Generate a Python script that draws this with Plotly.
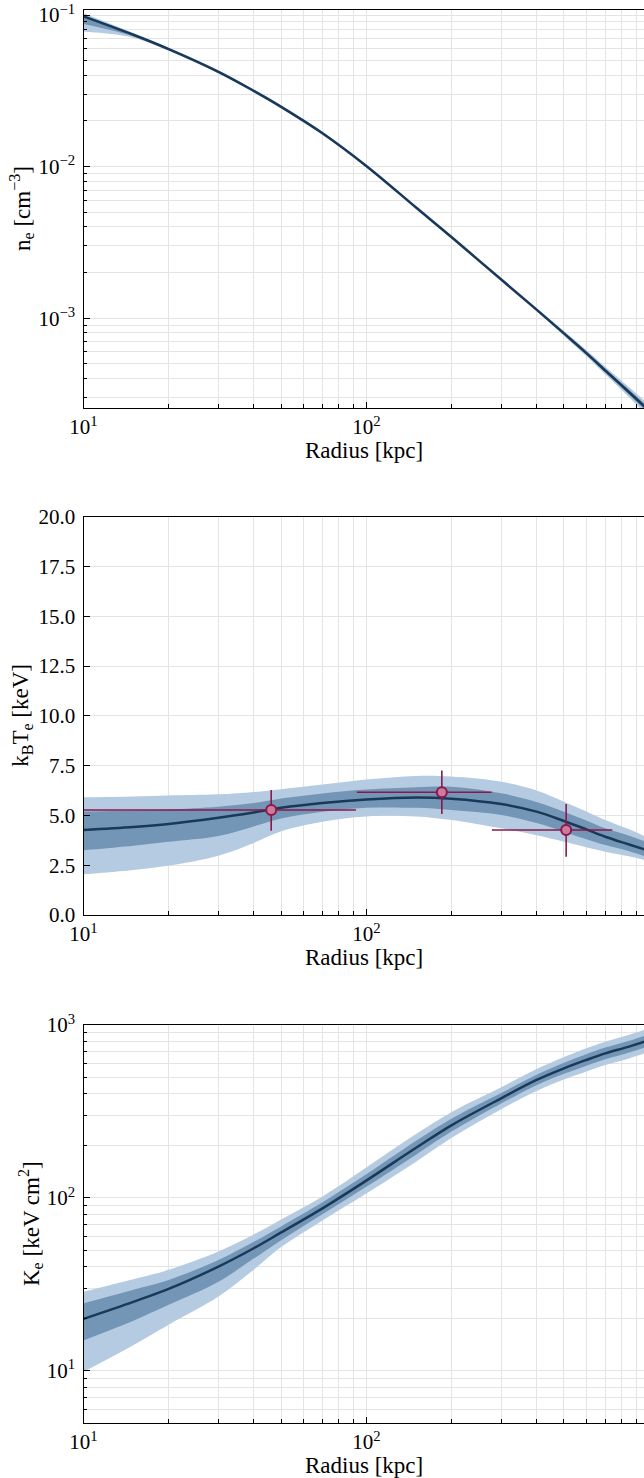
import plotly.graph_objects as go

# ---------------- data ----------------
radius = [10, 15, 20, 30, 40, 50, 70, 100, 150, 200, 300, 400, 500, 600, 700, 850, 1000]

# electron density [cm^-3]
ne_med = [0.0980, 0.0741, 0.0596, 0.0422, 0.0316, 0.0248, 0.0166, 0.0101, 0.00537, 0.00343,
          0.00180, 0.00114, 0.000794, 0.000589, 0.000452, 0.000325, 0.000245]
ne_lo2 = [0.0778, 0.0708, 0.0580, 0.0412, 0.0309, 0.0242, 0.0162, 0.00987, 0.00525, 0.00335,
          0.00176, 0.00111, 0.000765, 0.000562, 0.000427, 0.000301, 0.000223]
ne_hi2 = [0.1026, 0.0762, 0.0610, 0.0432, 0.0323, 0.0254, 0.0170, 0.01033, 0.00549, 0.00351,
          0.00184, 0.00117, 0.000824, 0.000617, 0.000479, 0.000351, 0.000269]
ne_lo1 = [0.0873, 0.0724, 0.0588, 0.0417, 0.0312, 0.0245, 0.0164, 0.00998, 0.00531, 0.00339,
          0.00178, 0.001124, 0.000780, 0.000576, 0.000439, 0.000313, 0.000234]
ne_hi1 = [0.1003, 0.0751, 0.0603, 0.0427, 0.0320, 0.0251, 0.0168, 0.01022, 0.00543, 0.00347,
          0.00182, 0.001156, 0.000809, 0.000603, 0.000465, 0.000338, 0.000257]

# temperature [keV]
kt_med = [4.27, 4.42, 4.57, 4.88, 5.15, 5.38, 5.62, 5.80, 5.90, 5.84, 5.57, 5.19, 4.72, 4.30, 3.93, 3.54, 3.22]
kt_hi2 = [5.91, 5.95, 6.00, 6.06, 6.18, 6.32, 6.55, 6.80, 6.98, 6.95, 6.69, 6.25, 5.69, 5.20, 4.77, 4.30, 3.85]
kt_lo2 = [2.04, 2.26, 2.48, 2.98, 3.62, 4.20, 4.68, 4.95, 4.95, 4.77, 4.35, 4.00, 3.68, 3.40, 3.18, 2.95, 2.70]
kt_hi1 = [5.20, 5.25, 5.30, 5.44, 5.62, 5.85, 6.10, 6.30, 6.42, 6.44, 6.11, 5.68, 5.19, 4.75, 4.35, 3.98, 3.62]
kt_lo1 = [3.25, 3.48, 3.68, 3.97, 4.45, 4.85, 5.18, 5.38, 5.38, 5.27, 5.02, 4.62, 4.18, 3.80, 3.51, 3.20, 2.88]

# measured temperature points
obs_r = [46.1, 185.0, 509.0]
obs_r_lo = [10.0, 92.6, 278.0]
obs_r_hi = [91.9, 277.5, 741.0]
obs_kt = [5.27, 6.16, 4.27]
obs_kt_lo = [4.23, 5.07, 2.93]
obs_kt_hi = [6.28, 7.25, 5.57]

# entropy [keV cm^2]
k_med = [20.0, 25.1, 29.8, 40.1, 51.2, 63.2, 87.1, 126, 195, 263, 377, 481, 562, 628, 685, 750, 818]
k_hi2 = [28.7, 33.9, 38.4, 49.0, 61.5, 75.1, 102, 150, 234, 313, 436, 556, 653, 734, 800, 878, 957]
k_lo2 = [9.9, 14.1, 18.5, 26.9, 38.5, 52.0, 74.1, 106, 162, 222, 326, 416, 484, 538, 587, 641, 699]
k_hi1 = [24.6, 29.5, 33.6, 43.8, 55.8, 68.5, 94.4, 137, 214, 287, 404, 515, 605, 678, 740, 811, 885]
k_lo1 = [15.0, 19.5, 24.1, 32.8, 44.6, 57.0, 80.4, 116, 178, 242, 352, 449, 522, 582, 634, 694, 756]

x_major = [10, 100, 1000]
x_major_text = ["10<sup>1</sup>", "10<sup>2</sup>", "10<sup>3</sup>"]
x_minor = [20, 30, 40, 50, 60, 70, 80, 90, 200, 300, 400, 500, 600, 700, 800, 900]

ne_major = [1e-3, 1e-2, 1e-1]
ne_major_text = ["10<sup>−3</sup>", "10<sup>−2</sup>", "10<sup>−1</sup>"]
ne_minor = [3e-4, 4e-4, 5e-4, 6e-4, 7e-4, 8e-4, 9e-4,
            2e-3, 3e-3, 4e-3, 5e-3, 6e-3, 7e-3, 8e-3, 9e-3,
            2e-2, 3e-2, 4e-2, 5e-2, 6e-2, 7e-2, 8e-2, 9e-2]

kt_major = [0.0, 2.5, 5.0, 7.5, 10.0, 12.5, 15.0, 17.5, 20.0]
kt_major_text = ["0.0", "2.5", "5.0", "7.5", "10.0", "12.5", "15.0", "17.5", "20.0"]

k_major = [10, 100, 1000]
k_major_text = ["10<sup>1</sup>", "10<sup>2</sup>", "10<sup>3</sup>"]
k_minor = [5, 6, 7, 8, 9, 20, 30, 40, 50, 60, 70, 80, 90, 200, 300, 400, 500, 600, 700, 800, 900]

# ---------------- styling ----------------
FONT = "Liberation Serif"
LIGHT = "rgb(180,203,225)"
DARK = "rgb(115,150,182)"
LINE = "rgb(26,56,88)"
ERR = "rgb(138,24,74)"
MFILL = "rgb(206,122,158)"
GRID = "rgb(228,228,228)"

W, H = 644, 1478
x0 = 83.5 / W
panels = [(10, 408), (516.7, 915), (1025, 1423)]  # top/bottom pixel of each plot area


def ydom(top, bot):
    return [1 - bot / H, 1 - top / H]


fig = go.Figure()


def add_band(xa, ya, lo, hi, color):
    fig.add_trace(go.Scatter(x=radius, y=lo, mode="lines", line=dict(width=0, color=color, shape="spline"),
                             xaxis=xa, yaxis=ya, hoverinfo="skip", showlegend=False))
    fig.add_trace(go.Scatter(x=radius, y=hi, mode="lines", line=dict(width=0, color=color, shape="spline"),
                             fill="tonexty", fillcolor=color, xaxis=xa, yaxis=ya,
                             hoverinfo="skip", showlegend=False))


def add_line(xa, ya, y):
    fig.add_trace(go.Scatter(x=radius, y=y, mode="lines", line=dict(width=2.5, color=LINE, shape="spline"),
                             xaxis=xa, yaxis=ya, showlegend=False))


# panel 1
add_band("x", "y", ne_lo2, ne_hi2, LIGHT)
add_band("x", "y", ne_lo1, ne_hi1, DARK)
add_line("x", "y", ne_med)
# panel 2
add_band("x2", "y2", kt_lo2, kt_hi2, LIGHT)
add_band("x2", "y2", kt_lo1, kt_hi1, DARK)
add_line("x2", "y2", kt_med)
fig.add_trace(go.Scatter(
    x=obs_r, y=obs_kt, mode="markers", xaxis="x2", yaxis="y2", showlegend=False,
    marker=dict(size=10, color=MFILL, line=dict(color=ERR, width=2)),
    error_x=dict(type="data", symmetric=False,
                 array=[h - r for h, r in zip(obs_r_hi, obs_r)],
                 arrayminus=[r - l for r, l in zip(obs_r, obs_r_lo)],
                 color=ERR, thickness=1.6, width=0),
    error_y=dict(type="data", symmetric=False,
                 array=[h - t for h, t in zip(obs_kt_hi, obs_kt)],
                 arrayminus=[t - l for t, l in zip(obs_kt, obs_kt_lo)],
                 color=ERR, thickness=1.6, width=0),
))
# panel 3
add_band("x3", "y3", k_lo2, k_hi2, LIGHT)
add_band("x3", "y3", k_lo1, k_hi1, DARK)
add_line("x3", "y3", k_med)

tickfont = dict(family=FONT, size=21, color="black")


def xaxis_cfg(anchor):
    return dict(type="log", range=[1, 2.982], domain=[x0, 1], anchor=anchor, automargin=False,
                tickmode="array", tickvals=x_major, ticktext=x_major_text,
                ticks="inside", ticklen=6, tickwidth=1.2, tickcolor="black",
                showline=True, linecolor="black", linewidth=1.3, mirror=True,
                showgrid=True, gridcolor=GRID, gridwidth=1, zeroline=False,
                tickfont=tickfont,
                minor=dict(tickmode="array", tickvals=x_minor, ticks="inside", ticklen=3.5,
                           tickcolor="black", tickwidth=1, showgrid=True, gridcolor=GRID, gridwidth=1))


def yaxis_cfg(anchor, dom, **kw):
    d = dict(domain=dom, anchor=anchor, automargin=False, ticks="inside", ticklen=6, tickwidth=1.2,
             tickcolor="black", showline=True, linecolor="black", linewidth=1.3, mirror=False,
             showgrid=True, gridcolor=GRID, gridwidth=1, zeroline=False,
             tickfont=tickfont, ticklabelstandoff=3)
    d.update(kw)
    return d


fig.update_layout(
    width=W, height=H, margin=dict(l=0, r=0, t=0, b=0, autoexpand=False),
    paper_bgcolor="white", plot_bgcolor="white", showlegend=False,
    font=dict(family=FONT, color="black"),
    xaxis=xaxis_cfg("y"),
    xaxis2=xaxis_cfg("y2"),
    xaxis3=xaxis_cfg("y3"),
    yaxis=yaxis_cfg("x", ydom(*panels[0]), type="log", range=[-3.592, -0.967],
                    tickmode="array", tickvals=ne_major, ticktext=ne_major_text,
                    minor=dict(tickmode="array", tickvals=ne_minor, ticks="inside", ticklen=3.5,
                               tickcolor="black", tickwidth=1, showgrid=True, gridcolor=GRID, gridwidth=1)),
    yaxis2=yaxis_cfg("x2", ydom(*panels[1]), type="linear", range=[0, 20],
                     tickmode="array", tickvals=kt_major, ticktext=kt_major_text),
    yaxis3=yaxis_cfg("x3", ydom(*panels[2]), type="log", range=[0.699, 3.0],
                     tickmode="array", tickvals=k_major, ticktext=k_major_text,
                     minor=dict(tickmode="array", tickvals=k_minor, ticks="inside", ticklen=3.5,
                                tickcolor="black", tickwidth=1, showgrid=True, gridcolor=GRID, gridwidth=1)),
)

title_font = dict(family=FONT, size=23, color="black")
xcenter = (x0 + 1) / 2
ytitles = ["n<sub>e</sub> [cm<sup>−3</sup>]", "k<sub>B</sub>T<sub>e</sub> [keV]", "K<sub>e</sub> [keV cm<sup>2</sup>]"]
ytitle_x = [22, 22, 30]
xtitle_y = [450, 957, 1465]
for (top, bot), yt, yx, xty in zip(panels, ytitles, ytitle_x, xtitle_y):
    fig.add_annotation(text="Radius [kpc]", xref="paper", yref="paper", x=xcenter, y=1 - xty / H,
                       xanchor="center", yanchor="middle", showarrow=False, font=title_font)
    fig.add_annotation(text=yt, xref="paper", yref="paper", x=yx / W, y=1 - (top + bot) / 2 / H,
                       xanchor="center", yanchor="middle", textangle=-90, showarrow=False, font=title_font)

fig.write_html("out.html")
